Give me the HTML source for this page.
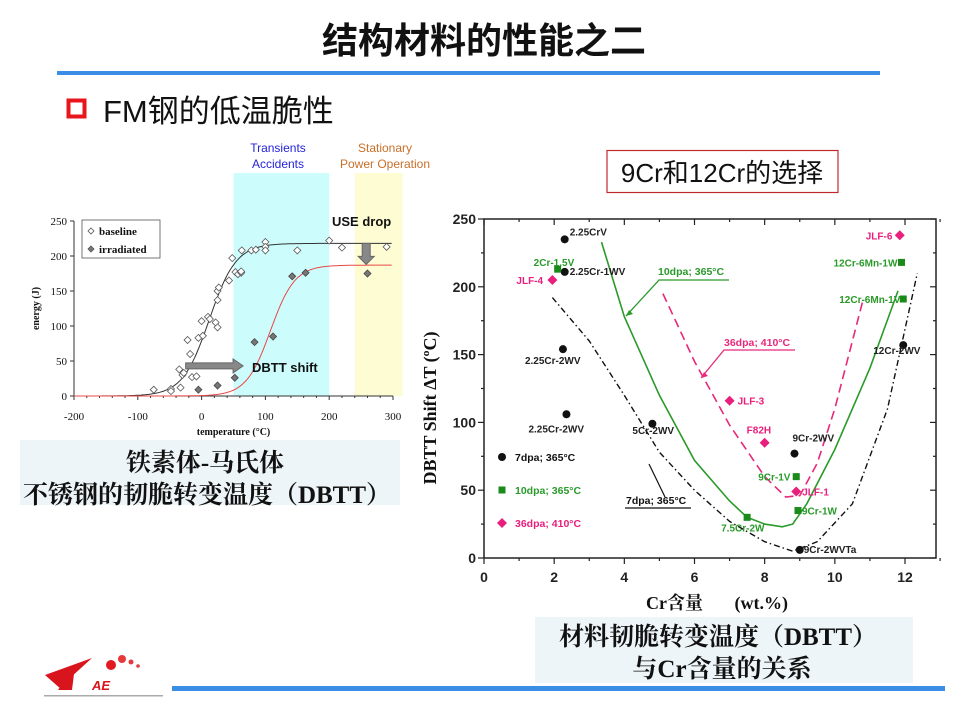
<!DOCTYPE html>
<html><head><meta charset="utf-8">
<style>
html,body{margin:0;padding:0;background:#fff;}
svg{display:block;}
text{font-family:"Liberation Sans","Noto Sans CJK SC",sans-serif;}
.serif{font-family:"Liberation Serif","Noto Serif CJK SC",serif;}
</style></head>
<body>
<svg id="slide" width="960" height="720" viewBox="0 0 960 720" xmlns="http://www.w3.org/2000/svg">
  <text x="484" y="53" text-anchor="middle" font-size="36" font-weight="bold" fill="#111">结构材料的性能之二</text>
  <rect x="57" y="71" width="823" height="4" fill="#3a8ee6"/>
  <rect x="68.5" y="100.5" width="16" height="16" fill="none" stroke="#e8151b" stroke-width="4"/>
  <text x="103" y="122" font-size="31" fill="#111">FM钢的低温脆性</text>

  <!-- left chart -->
  <g id="left"></g>
  <rect x="20" y="440" width="380" height="65" fill="#eef5f8"/>
  <text class="serif" x="205" y="471" text-anchor="middle" font-size="25" font-weight="bold" fill="#111">铁素体-马氏体</text>
  <text class="serif" x="207" y="503" text-anchor="middle" font-size="25" font-weight="bold" fill="#111">不锈钢的韧脆转变温度（DBTT）</text>

  <!-- right chart -->
  <rect x="607" y="150.5" width="231" height="42" fill="#fff" stroke="#c0282d" stroke-width="1.2"/>
  <text x="722" y="182" text-anchor="middle" font-size="26" fill="#111">9Cr和12Cr的选择</text>
  <g id="right"></g>
  <text class="serif" transform="translate(436,408) rotate(-90)" text-anchor="middle" font-size="18" font-weight="bold" fill="#111">DBTT Shift ΔT   (ºC)</text>
  <text class="serif" x="717" y="609" text-anchor="middle" font-size="18" font-weight="bold" fill="#111" xml:space="preserve">Cr含量       (wt.%)</text>
  <rect x="535" y="617" width="378" height="66" fill="#eef5f8"/>
  <text class="serif" x="718" y="645" text-anchor="middle" font-size="25" font-weight="bold" fill="#111">材料韧脆转变温度（DBTT）</text>
  <text class="serif" x="722" y="677" text-anchor="middle" font-size="25" font-weight="bold" fill="#111">与Cr含量的关系</text>

  <rect x="172" y="686" width="773" height="5" fill="#3a8ee6"/>
  <g>
    <path d="M45 675 L92 658 L70 678 L62 690 Z" fill="#d8141c"/>
    <path d="M58 690 L75 666 L72 690 Z" fill="#d8141c"/>
    <circle cx="111" cy="665" r="5" fill="#e01a20"/>
    <circle cx="122" cy="659" r="4" fill="#e8383c"/>
    <circle cx="131" cy="662" r="2.5" fill="#e8383c"/>
    <circle cx="138" cy="666" r="1.8" fill="#e8383c"/>
    <text x="92" y="690" font-size="13" font-weight="bold" font-style="italic" fill="#d8141c">AE</text>
    <rect x="44" y="695" width="119" height="1.5" fill="#aaa"/>
  </g>
</svg>
<script>
// ---------- LEFT CHART DATA ----------
const leftXTicks = [-200,-100,0,100,200,300];
const leftYTicks = [0,50,100,150,200,250];
const baselineT = [-75,-48,-48,-33,-35,-30,-28,-22,-18,-15,-8,-5,0,2,10,13,22,25,25,25,27,43,48,53,57,62,62,63,78,85,100,100,100,150,200,220,290];
const baselineE = [9,10,7,12,38,30,33,80,60,27,28,83,107,86,113,110,105,98,137,150,155,165,197,177,174,176,178,208,208,209,220,213,208,208,222,212,213];
const irradT = [-5,25,52,83,112,142,163,260];
const irradE = [9,15,26,77,85,171,176,175];
// fit parameters: [lower, upper, midT, width]
const baselineFit = [0,218,12,42];
const irradFit = [0,187,108,38];

// ---------- RIGHT CHART DATA ----------
const rightXTicks = [0,2,4,6,8,10,12];
const rightYTicks = [0,50,100,150,200,250];
const blackX = [2.3,2.3,2.25,2.35,4.8,8.85,9.0,11.95];
const blackY = [235,211,154,106,99,77,6,157];
const blackLbl = ['2.25CrV','2.25Cr-1WV','2.25Cr-2WV','2.25Cr-2WV','5Cr-2WV','9Cr-2WV','9Cr-2WVTa','12Cr-2WV'];
const greenX = [2.1,7.5,8.9,8.95,11.9,11.95];
const greenY = [213,30,60,35,218,191];
const greenLbl = ['2Cr-1.5V','7.5Cr-2W','9Cr-1V','9Cr-1W','12Cr-6Mn-1W','12Cr-6Mn-1V'];
const pinkX = [1.95,7.0,8.0,8.9,11.85];
const pinkY = [205,116,85,49,238];
const pinkLbl = ['JLF-4','JLF-3','F82H','JLF-1','JLF-6'];
const greenCurveX = [3.35,4,5,6,7,7.5,8,8.5,8.8,9.2,10,11,11.8];
const greenCurveY = [233,178,120,72,42,30,25,23,25,40,80,140,197];
const pinkCurveX = [5.1,6,7,8,8.6,9,9.5,10,10.5,10.8];
const pinkCurveY = [195,145,98,60,45,46,70,110,160,190];
const blackCurveX = [1.95,3,4,5,6,7,8,8.8,9.5,10.5,11.5,12.35];
const blackCurveY = [192,160,120,78,50,27,12,5,12,40,110,210];

const NS='http://www.w3.org/2000/svg';
function mk(tag,attrs,parent){const e=document.createElementNS(NS,tag);for(const k in attrs)e.setAttribute(k,attrs[k]);parent.appendChild(e);return e;}

// ===== left chart =====
(function(){
  const g=document.getElementById('left');
  const lx=t=>74+(t+200)*(319/500);
  const ly=e=>396-e*(175/250);
  mk('rect',{x:lx(50),y:173,width:lx(200)-lx(50),height:396-173,fill:'#ccfcfc'},g);
  mk('rect',{x:lx(240),y:173,width:lx(315)-lx(240),height:396-173,fill:'#fdfcd2'},g);
  const t1=mk('text',{x:278,y:152,'text-anchor':'middle','font-size':12,fill:'#2424d8'},g);t1.textContent='Transients';
  
  const t2=mk('text',{x:278,y:168,'text-anchor':'middle','font-size':12,fill:'#2424d8'},g);t2.textContent='Accidents';
  
  const t3=mk('text',{x:385,y:152,'text-anchor':'middle','font-size':12,fill:'#c8702a'},g);t3.textContent='Stationary';
  
  const t4=mk('text',{x:385,y:168,'text-anchor':'middle','font-size':12,fill:'#c8702a'},g);t4.textContent='Power Operation';
  
  mk('line',{x1:lx(-200),y1:ly(0),x2:lx(300),y2:ly(0),stroke:'#333','stroke-width':1},g);
  mk('line',{x1:lx(-200),y1:ly(0),x2:lx(-200),y2:ly(250),stroke:'#333','stroke-width':1},g);
  for(let t=-200;t<=300;t+=20){mk('line',{x1:lx(t),y1:ly(0),x2:lx(t),y2:ly(0)+(t%100===0?4:2),stroke:'#333'},g);}
  leftXTicks.forEach(t=>{const e=mk('text',{x:lx(t),y:420,'text-anchor':'middle','font-size':11,class:'serif',fill:'#111'},g);e.textContent=t;
    });
  leftYTicks.forEach(v=>{mk('line',{x1:lx(-200)-4,y1:ly(v),x2:lx(-200),y2:ly(v),stroke:'#333'},g);
    const e=mk('text',{x:lx(-200)-7,y:ly(v)+4,'text-anchor':'end','font-size':11,class:'serif',fill:'#111'},g);e.textContent=v;
    });
  const xt=mk('text',{x:lx(50),y:435,'text-anchor':'middle','font-size':10,class:'serif','font-weight':'bold',fill:'#111'},g);xt.textContent='temperature (°C)';
  
  const yt=mk('text',{transform:`translate(39,${ly(125)}) rotate(-90)`,'text-anchor':'middle','font-size':10,class:'serif','font-weight':'bold',fill:'#111'},g);yt.textContent='energy (J)';
  
  function fitPath(p){let d='';for(let t=-200;t<=300;t+=3){const e=p[0]+(p[1]-p[0])*(1+Math.tanh((t-p[2])/p[3]))/2;d+=(d?'L':'M')+lx(t).toFixed(1)+' '+ly(e).toFixed(1);}return d;}
  mk('path',{d:fitPath(baselineFit),fill:'none',stroke:'#333','stroke-width':1},g);
  mk('path',{d:fitPath(irradFit),fill:'none',stroke:'#e84848','stroke-width':1},g);
  baselineT.forEach((t,i)=>{const x=lx(t),y=ly(baselineE[i]);
    const p=mk('path',{d:`M${x} ${y-3.5}L${x+3.5} ${y}L${x} ${y+3.5}L${x-3.5} ${y}Z`,fill:'#fff',stroke:'#555','stroke-width':0.8},g);
    });
  irradT.forEach((t,i)=>{const x=lx(t),y=ly(irradE[i]);
    const p=mk('path',{d:`M${x} ${y-3.5}L${x+3.5} ${y}L${x} ${y+3.5}L${x-3.5} ${y}Z`,fill:'#777',stroke:'#444','stroke-width':0.8},g);
    });
  const ax1=lx(-25),ax2=lx(65),ay=ly(43);
  mk('path',{d:`M${ax1} ${ay-3}L${ax2-10} ${ay-3}L${ax2-10} ${ay-7}L${ax2} ${ay}L${ax2-10} ${ay+7}L${ax2-10} ${ay+3}L${ax1} ${ay+3}Z`,fill:'#888',stroke:'#666'},g);
  const dl=mk('text',{x:252,y:372,'font-size':13,'font-weight':'bold',fill:'#111'},g);dl.textContent='DBTT shift';
  
  const bx=lx(258),by1=ly(218),by2=ly(188);
  mk('path',{d:`M${bx-4} ${by1}L${bx+4} ${by1}L${bx+4} ${by2-8}L${bx+8} ${by2-8}L${bx} ${by2}L${bx-8} ${by2-8}L${bx-4} ${by2-8}Z`,fill:'#888',stroke:'#666'},g);
  const ul=mk('text',{x:332,y:226,'font-size':13,'font-weight':'bold',fill:'#111'},g);ul.textContent='USE drop';
  
  mk('rect',{x:82,y:220,width:78,height:38,fill:'#fff',stroke:'#555','stroke-width':0.8},g);
  [[0,'baseline','#fff'],[1,'irradiated','#777']].forEach(([i,l,f])=>{const x=91,y=231+i*18;
    mk('path',{d:`M${x} ${y-3}L${x+3} ${y}L${x} ${y+3}L${x-3} ${y}Z`,fill:f,stroke:'#555','stroke-width':0.8},g);
    const e=mk('text',{x:99,y:y+4,'font-size':11,class:'serif','font-weight':'bold',fill:'#111'},g);e.textContent=l;
    });
})();

// ===== right chart =====
(function(){
  const g=document.getElementById('right');
  const rx=c=>484+c*(421/12);
  const ry=v=>558-v*(339/250);
  mk('rect',{x:484,y:219,width:452,height:339,fill:'#fff',stroke:'#222','stroke-width':1.5},g);
  for(let c=0;c<=13;c++){const L=c%2===0?6:3;
    mk('line',{x1:rx(c),y1:558,x2:rx(c),y2:558+L,stroke:'#222','stroke-width':1.2},g);
    mk('line',{x1:rx(c),y1:219,x2:rx(c),y2:219+L,stroke:'#222','stroke-width':1.2},g);}
  for(let v=0;v<=250;v+=25){const L=v%50===0?6:3;
    mk('line',{x1:484-L,y1:ry(v),x2:484,y2:ry(v),stroke:'#222','stroke-width':1.2},g);
    mk('line',{x1:936,y1:ry(v),x2:936-L,y2:ry(v),stroke:'#222','stroke-width':1.2},g);}
  rightXTicks.forEach(c=>{const e=mk('text',{x:rx(c),y:582,'text-anchor':'middle','font-size':14,'font-weight':'bold',fill:'#222'},g);e.textContent=c;
    });
  rightYTicks.forEach(v=>{const e=mk('text',{x:476,y:ry(v)+5,'text-anchor':'end','font-size':14,'font-weight':'bold',fill:'#222'},g);e.textContent=v;
    });
  function poly(xs,ys){return xs.map((x,i)=>(i?'L':'M')+rx(x).toFixed(1)+' '+ry(ys[i]).toFixed(1)).join('');}
  mk('path',{d:poly(blackCurveX,blackCurveY),fill:'none',stroke:'#111','stroke-width':1.4,'stroke-dasharray':'6 3 1.5 3'},g);
  mk('path',{d:poly(pinkCurveX,pinkCurveY),fill:'none',stroke:'#e8287a','stroke-width':1.6,'stroke-dasharray':'9 5'},g);
  mk('path',{d:poly(greenCurveX,greenCurveY),fill:'none',stroke:'#2a9a2a','stroke-width':1.6},g);
  function callout(x1,y1,x2,y2,x3,col,txt,tx,ty,name){
    mk('path',{d:`M${x3} ${y2}L${x2} ${y2}L${x1} ${y1}`,fill:'none',stroke:col,'stroke-width':1.3},g);
    mk('path',{d:`M${x1} ${y1}l7 -2 l-4 -4 Z`,fill:col},g);
    const e=mk('text',{x:tx,y:ty,'font-size':10.5,'font-weight':'bold',fill:col},g);e.textContent=txt;
    }
  callout(626,316,659,280,729,'#2a9a2a','10dpa; 365°C',658,275,'10dpa-callout');
  callout(701,378,724,350,795,'#e8287a','36dpa; 410°C',724,346,'36dpa-callout');
  mk('path',{d:'M649 464L665 497',stroke:'#111','stroke-width':1.2,fill:'none'},g);
  mk('line',{x1:625,y1:508,x2:691,y2:508,stroke:'#111','stroke-width':1.2},g);
  const c7=mk('text',{x:626,y:504,'font-size':10.5,'font-weight':'bold',fill:'#111'},g);c7.textContent='7dpa; 365°C';
  
  const bOff=[[5,-4],[5,3],[-38,15],[-38,18],[-20,10],[-2,-12],[4,3],[-30,9]];
  blackX.forEach((c,i)=>{const x=rx(c),y=ry(blackY[i]);
    const p=mk('circle',{cx:x,cy:y,r:4,fill:'#111'},g);
    const t=mk('text',{x:x+bOff[i][0],y:y+bOff[i][1],'font-size':10,'font-weight':'bold',fill:'#222'},g);t.textContent=blackLbl[i];
    });
  const gOff=[[-24,-3],[-26,14],[-38,4],[4,4],[-68,4],[-64,4]];
  greenX.forEach((c,i)=>{const x=rx(c),y=ry(greenY[i]);
    const p=mk('rect',{x:x-3.5,y:y-3.5,width:7,height:7,fill:'#1a8a1a'},g);
    const t=mk('text',{x:x+gOff[i][0],y:y+gOff[i][1],'font-size':10,'font-weight':'bold',fill:'#2a9a2a'},g);t.textContent=greenLbl[i];
    });
  const pOff=[[-36,4],[8,4],[-18,-9],[6,4],[-34,4]];
  pinkX.forEach((c,i)=>{const x=rx(c),y=ry(pinkY[i]);
    const p=mk('path',{d:`M${x} ${y-5}L${x+5} ${y}L${x} ${y+5}L${x-5} ${y}Z`,fill:'#ea1e7c'},g);
    const t=mk('text',{x:x+pOff[i][0],y:y+pOff[i][1],'font-size':10,'font-weight':'bold',fill:'#ea1e7c'},g);t.textContent=pinkLbl[i];
    });
  const lg=[['7dpa; 365°C','#111','c'],['10dpa; 365°C','#2a9a2a','s'],['36dpa; 410°C','#ea1e7c','d']];
  lg.forEach((L,i)=>{const x=502,y=457+i*33;
    if(L[2]==='c')mk('circle',{cx:x,cy:y,r:4,fill:'#111'},g);
    else if(L[2]==='s')mk('rect',{x:x-3.5,y:y-3.5,width:7,height:7,fill:'#1a8a1a'},g);
    else mk('path',{d:`M${x} ${y-5}L${x+5} ${y}L${x} ${y+5}L${x-5} ${y}Z`,fill:'#ea1e7c'},g);
    const t=mk('text',{x:x+13,y:y+4,'font-size':10.5,'font-weight':'bold',fill:L[1]},g);t.textContent=L[0];
    });
})();
</script>
</body></html>
